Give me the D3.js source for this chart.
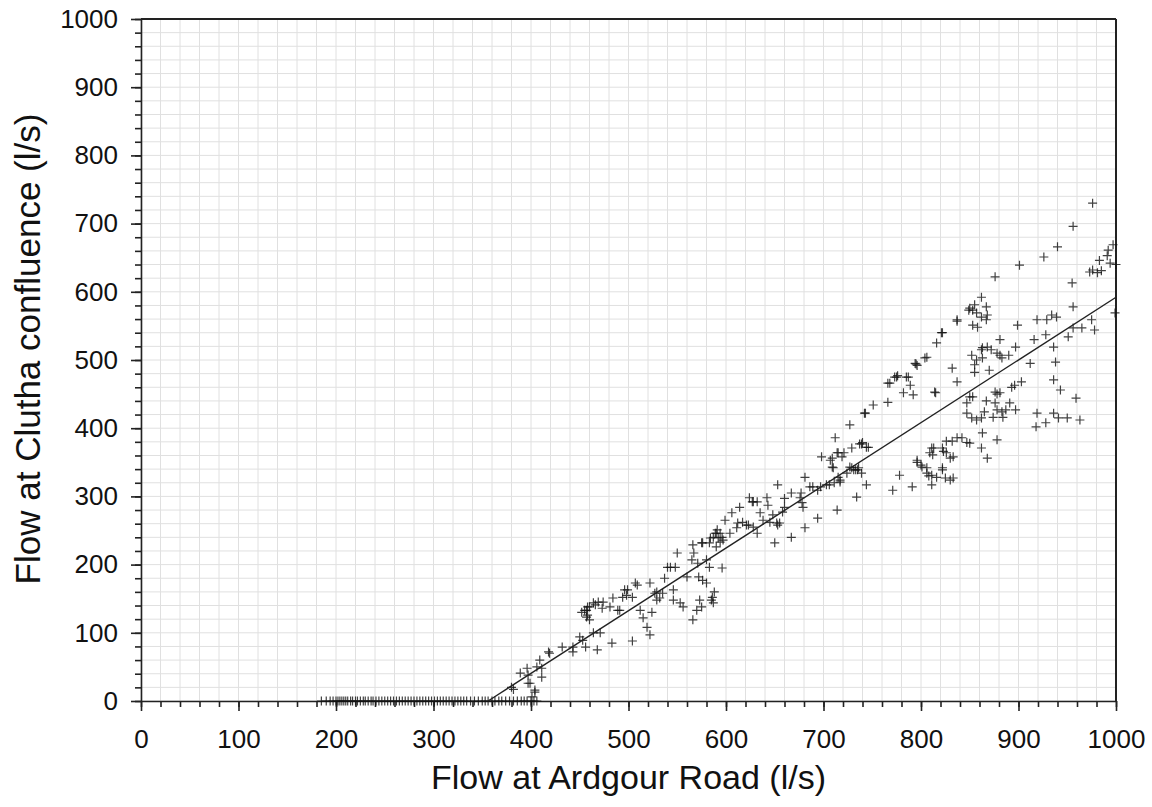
<!DOCTYPE html>
<html>
<head>
<meta charset="utf-8">
<script src="https://cdn.jsdelivr.net/npm/d3@7"></script>
<style>
    body { margin: 0; background: #fff; }
    svg { font-family: "Liberation Sans", Arial, sans-serif; }
    .grid line { stroke: #e0e0e0; stroke-width: 1; }
    .axis path, .axis line { stroke: #222; }
    .axis text { fill: #111; font-size: 26px; }
    .title { fill: #111; }
    .pt { stroke: #111; stroke-width: 1.2; fill: none; opacity: 0.8; }
</style>
</head>
<body>
<svg id="chart"></svg>
<script>
// Flow at Ardgour Road (l/s) for days when the Clutha confluence was dry
var dryArdgour = [185, 190, 194, 197, 200, 202, 204, 206, 208, 210, 212, 215, 217, 220, 222, 225, 228, 230,
    233, 236, 238, 241, 244, 247, 250, 253, 256, 259, 262, 265, 268, 271, 274, 277, 280, 283, 286, 289,
    292, 295, 298, 301, 304, 307, 310, 313, 316, 319, 322, 325, 328, 331, 334, 338, 342, 346, 350, 353,
    356, 360, 363, 367, 370, 374, 378, 382, 386, 390, 393, 396, 400, 403, 406];

// [Ardgour Road, Clutha confluence] pairs, grouped by Ardgour flow
var lowFlows = [[380, 20], [382, 17], [389, 41], [396, 48], [397, 38], [399, 26], [404, 16], [409, 60], [411, 48],
    [411, 35], [418, 72], [401, 6], [397, 26], [406, 50], [404, 13], [419, 70], [432, 79], [443, 79], [443, 72],
    [450, 94], [453, 89], [456, 79], [468, 75], [464, 100], [471, 100], [483, 85], [504, 88], [455, 133],
    [458, 138], [464, 144], [469, 145], [474, 145], [481, 138], [484, 151], [489, 133], [496, 163], [507, 173],
    [498, 155], [512, 133], [515, 122], [519, 108], [522, 97], [524, 130], [522, 173], [529, 160], [529, 148],
    [535, 158], [537, 180], [546, 163], [546, 148], [548, 196], [550, 217], [457, 123], [460, 119], [452, 130],
    [457, 133], [460, 138], [458, 126], [466, 141], [473, 136], [491, 133], [494, 152], [499, 163], [504, 152],
    [509, 170], [527, 158], [532, 151], [540, 196], [543, 196], [553, 144], [556, 138], [560, 182], [565, 207]];

var midFlows = [[567, 217], [571, 202], [572, 182], [573, 148], [575, 138], [576, 177], [580, 207], [580, 173],
    [583, 196], [586, 152], [587, 144], [576, 232], [583, 232], [587, 240], [590, 246], [592, 239], [594, 246],
    [596, 240], [597, 236], [590, 226], [596, 195], [599, 265], [606, 276], [604, 246], [611, 254], [566, 229],
    [575, 232], [584, 239], [589, 246], [591, 251], [594, 233], [614, 284], [624, 298], [628, 292], [632, 292],
    [635, 276], [642, 298], [643, 287], [650, 232], [612, 261], [617, 262], [623, 258], [628, 255], [632, 246],
    [638, 265], [645, 262], [652, 261], [653, 258], [648, 273], [653, 317], [658, 277], [660, 284], [667, 305],
    [667, 240], [677, 305], [679, 284], [681, 328], [681, 254], [686, 314], [689, 314], [694, 309], [694, 268],
    [697, 314], [570, 133], [566, 119], [585, 148], [588, 160], [676, 298], [678, 291], [627, 292], [621, 258],
    [655, 261], [660, 297]];

var upperFlows = [[698, 358], [703, 317], [706, 317], [709, 343], [709, 356], [711, 320], [712, 386], [714, 364],
    [715, 328], [717, 321], [719, 358], [721, 364], [714, 280], [727, 405], [727, 343], [729, 371], [731, 339],
    [733, 339], [734, 299], [735, 339], [737, 377], [739, 334], [739, 377], [744, 317], [746, 372], [742, 422],
    [751, 434], [766, 438], [766, 466], [775, 475], [710, 342], [715, 364], [729, 342], [736, 342], [740, 379],
    [744, 372], [743, 422], [768, 466], [782, 452], [785, 475], [789, 463], [792, 449], [794, 495], [796, 492],
    [773, 475], [776, 477], [787, 475], [724, 334], [717, 324], [707, 353], [771, 309], [778, 331], [791, 314],
    [796, 350], [796, 353], [800, 346]];

var highFlows = [[804, 503], [806, 504], [814, 453], [816, 525], [822, 540], [837, 559], [849, 573], [850, 576],
    [853, 573], [855, 581], [857, 569], [862, 592], [867, 578], [868, 566], [853, 551], [858, 548], [867, 559],
    [862, 563], [876, 622], [901, 639], [926, 651], [940, 666], [955, 613], [956, 578], [973, 629], [976, 632],
    [981, 628], [983, 646], [985, 631], [991, 653], [994, 642], [997, 669], [999, 569], [852, 507], [862, 515],
    [863, 518], [868, 519], [872, 515], [878, 510], [881, 507], [883, 503], [890, 507], [857, 500], [863, 503],
    [855, 493], [870, 485], [855, 482], [832, 488], [837, 468], [881, 530], [899, 551], [897, 519], [912, 495],
    [916, 530], [919, 559], [928, 537], [929, 559], [934, 566], [939, 563], [936, 519], [938, 497], [936, 471],
    [943, 456], [951, 534], [956, 547], [965, 547], [975, 559], [978, 544], [959, 444], [847, 437], [850, 446],
    [853, 446], [847, 422], [852, 415], [857, 412], [862, 415], [865, 424], [867, 440], [876, 453], [878, 450],
    [881, 452], [876, 437], [878, 427], [883, 424], [887, 427], [884, 416], [874, 416], [893, 460], [896, 463],
    [903, 468], [897, 427], [891, 437], [863, 393], [878, 383], [862, 371], [868, 356], [919, 422], [918, 402],
    [928, 408], [936, 422], [941, 415], [950, 415], [963, 412], [837, 386], [832, 381], [826, 381], [822, 371],
    [842, 386], [847, 379], [850, 378], [811, 371], [812, 361], [823, 366], [826, 364], [830, 356], [833, 358],
    [806, 342], [811, 331], [816, 328], [822, 342], [833, 327], [801, 343], [806, 334], [811, 317], [822, 339],
    [830, 324], [809, 364], [813, 371], [815, 452], [821, 540], [837, 557], [795, 494], [825, 327], [808, 330],
    [976, 730], [956, 696], [992, 661], [1000, 640]];

// fitted line, Ardgour -> Clutha
var fitArdgour = [356, 1000];
var fitClutha = [0, 592];

var shape = {width: 975, height: 682, margin: {top: 19, right: 36, bottom: 106, left: 141}};
var width = shape.width;
var height = shape.height;
var margin = shape.margin;

var x = d3.scaleLinear().domain([0, 1000]).range([0, width]);
var y = d3.scaleLinear().domain([0, 1000]).range([height, 0]);

var svg = d3.select("#chart")
    .attr("width", 1152)
    .attr("height", 807);

var chart = svg.append("g")
    .attr("transform", "translate(" + margin.left + "," + margin.top + ")");

var minor = d3.range(0, 1001, 20);

// grid
var grid = chart.append("g").attr("class", "grid");

grid.selectAll("line.v")
    .data(minor)
    .enter()
    .append("line")
    .attr("class", "v")
    .attr("x1", function (d) { return x(d); })
    .attr("x2", function (d) { return x(d); })
    .attr("y1", 0)
    .attr("y2", height);

grid.selectAll("line.h")
    .data(minor)
    .enter()
    .append("line")
    .attr("class", "h")
    .attr("x1", 0)
    .attr("x2", width)
    .attr("y1", function (d) { return y(d); })
    .attr("y2", function (d) { return y(d); });

// minor ticks
chart.append("g")
    .attr("class", "axis")
    .attr("transform", "translate(0," + height + ")")
    .call(d3.axisBottom(x).tickValues(minor).tickSize(6).tickFormat(""))
    .call(function (g) { g.select(".domain").remove(); });

chart.append("g")
    .attr("class", "axis")
    .call(d3.axisLeft(y).tickValues(minor).tickSize(6).tickFormat(""))
    .call(function (g) { g.select(".domain").remove(); });

// major ticks + labels
var xAxis = d3.axisBottom(x).ticks(10).tickFormat(d3.format("d"))
    .tickSize(10).tickSizeOuter(0).tickPadding(19);
var yAxis = d3.axisLeft(y).ticks(10).tickFormat(d3.format("d"))
    .tickSize(10).tickSizeOuter(0).tickPadding(13);

chart.append("g")
    .attr("class", "axis x")
    .attr("transform", "translate(0," + height + ")")
    .call(xAxis);

chart.append("g")
    .attr("class", "axis y")
    .call(yAxis);

chart.selectAll(".axis path, .axis line").attr("stroke-width", 1.6);

// top and right frame
chart.append("line")
    .attr("x1", 0).attr("x2", width)
    .attr("y1", 0).attr("y2", 0)
    .attr("stroke", "#222").attr("stroke-width", 2);
chart.append("line")
    .attr("x1", width).attr("x2", width)
    .attr("y1", 0).attr("y2", height)
    .attr("stroke", "#222").attr("stroke-width", 2);

// data
var points = dryArdgour.map(function (d) { return [d, 0]; })
    .concat(lowFlows, midFlows, upperFlows, highFlows);

var s = 4.5;
chart.append("g")
    .selectAll("path")
    .data(points)
    .enter()
    .append("path")
    .attr("class", "pt")
    .attr("d", function (d) {
        var px = x(d[0]), py = y(d[1]);
        return "M" + (px - s) + "," + py + "H" + (px + s) + "M" + px + "," + (py - s) + "V" + (py + s);
    });

// fit line
chart.append("line")
    .attr("x1", x(fitArdgour[0]))
    .attr("y1", y(fitClutha[0]))
    .attr("x2", x(fitArdgour[1]))
    .attr("y2", y(fitClutha[1]))
    .attr("stroke", "#222")
    .attr("stroke-width", 1.4);

// titles
svg.append("text")
    .attr("class", "title")
    .attr("x", margin.left + width / 2)
    .attr("y", 789)
    .attr("text-anchor", "middle")
    .style("font-size", "34px")
    .text("Flow at Ardgour Road (l/s)");

svg.append("text")
    .attr("class", "title")
    .attr("transform", "translate(40,349) rotate(-90)")
    .attr("text-anchor", "middle")
    .style("font-size", "35px")
    .text("Flow at Clutha confluence (l/s)");
</script>
</body>
</html>
